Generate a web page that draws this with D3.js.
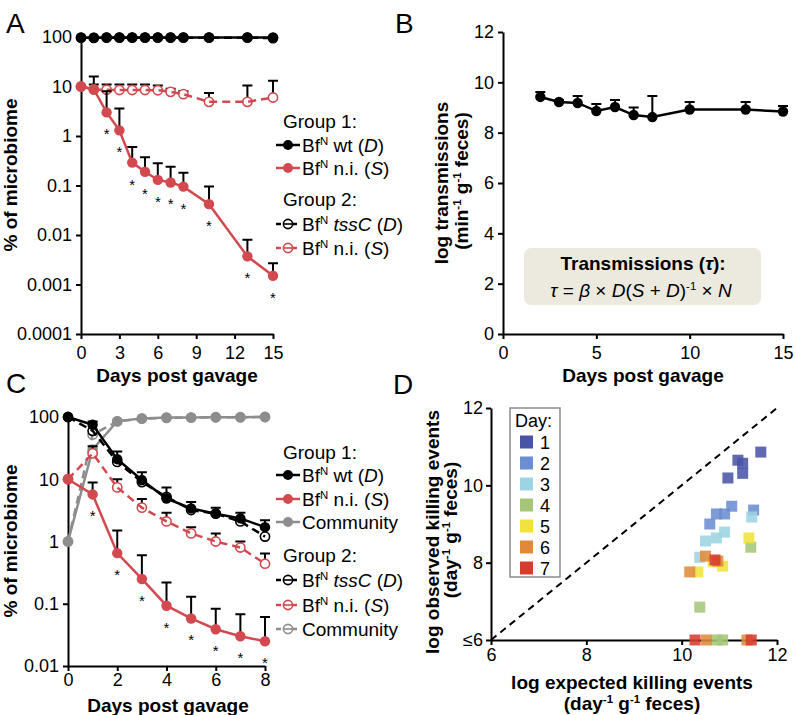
<!DOCTYPE html>
<html>
<head>
<meta charset="utf-8">
<script src="https://cdn.jsdelivr.net/npm/d3@7.9.0/dist/d3.min.js"></script>
<style>
body { margin: 0; background: #fff; }
svg { display: block; font-family: "Liberation Sans", Arial, Helvetica, sans-serif; }
text { white-space: pre; }
</style>
</head>
<body>
<svg id="fig" width="796" height="715"></svg>
<script>
// ---------- data ----------

// A: % of microbiome, 15 days
const daysA = [0, 1, 2, 3, 4, 5, 6, 7, 8, 10, 13, 15];
const aWtD = [97, 97, 98, 98, 98, 98, 98, 98, 98, 98, 98, 98];
const aTssD = [97, 96, 97, 97, 97, 97, 97, 97, 97, 97, 97, 95];
const aNiS1 = [10, 8.8, 3.0, 1.3, 0.29, 0.19, 0.13, 0.115, 0.095, 0.042, 0.0037, 0.0015];
const aNiS1Err = [null, 16, 8, 3.6, 0.6, 0.37, 0.28, 0.24, 0.18, 0.095, 0.008, 0.0027];
const aNiS2 = [10, 8.7, 8.6, 8.5, 8.5, 8.5, 8.4, 7.8, 7.0, 4.9, 4.9, 6.0];
const aNiS2Err = [null, 11, 11, 11, 11, 11, 10.5, 9, 8, 7.4, 10.5, 13];
const starDaysA = [2, 3, 4, 5, 6, 7, 8, 10, 13, 15];
const ticksAy = [100, 10, 1, 0.1, 0.01, 0.001, 0.0001];
const ticksAx = [0, 3, 6, 9, 12, 15];

// B: log transmissions
const daysB = [2, 3, 4, 5, 6, 7, 8, 10, 13, 15];
const bTrans = [9.42, 9.22, 9.18, 8.86, 9.02, 8.7, 8.62, 8.92, 8.92, 8.84];
const bTransErr = [9.62, 9.3, 9.46, 9.14, 9.3, 9.0, 9.46, 9.22, 9.22, 9.06];
const ticksBy = [0, 2, 4, 6, 8, 10, 12];
const ticksBx = [0, 5, 10, 15];

// C: % of microbiome with community, 8 days
const daysC = [0, 1, 2, 3, 4, 5, 6, 7, 8];
const cWtD = [100, 75, 21, 9.7, 4.9, 3.4, 2.8, 2.35, 1.7];
const cWtDErr = [null, 85, 28, 13, 7.4, 4.3, 3.5, 2.9, 2.2];
const cNiS1 = [10, 5.7, 0.65, 0.25, 0.093, 0.058, 0.039, 0.03, 0.025];
const cNiS1Err = [null, 8.9, 1.5, 0.6, 0.22, 0.13, 0.083, 0.068, 0.061];
const cComm1 = [1, 30, 86, 95, 98, 98, 99, 99, 100];
const cTssD = [100, 60, 19, 9, 5.2, 3.2, 2.8, 2.1, 1.2];
const cNiS2 = [10, 26, 7.4, 3.5, 2.1, 1.35, 1.0, 0.8, 0.44];
const cNiS2Err = [null, 34, 10, 4.8, 2.9, 1.7, 1.35, 1.0, 0.64];
const cComm2 = [1, 52, 85, 94, 97, 98, 99, 99, 100];
const starDaysC = [1, 2, 3, 4, 5, 6, 7, 8];
const ticksCy = [100, 10, 1, 0.1, 0.01];
const ticksCx = [0, 2, 4, 6, 8];

// D: observed vs expected killing events
const dDay = [1, 1, 1, 1, 1, 2, 2, 2, 2, 2, 3, 3, 3, 3, 3, 4, 4, 4, 4, 5, 5, 5, 5, 6, 6, 6, 6, 6, 7, 7, 7];
const dExpected = [11.66, 11.18, 11.28, 11.28, 10.97, 11.05, 11.51, 10.9, 10.73, 10.59,
  11.47, 10.9, 10.73, 10.5, 10.38, 11.45, 10.38, 10.74, 10.86, 11.41, 10.86, 10.66, 10.34,
  10.5, 10.17, 10.76, 10.52, 11.37, 10.7, 10.28, 11.46];
const dObserved = [10.86, 10.65, 10.57, 10.31, 10.19, 9.46, 9.36, 9.26, 9.26, 9.0,
  9.18, 8.79, 8.64, 8.56, 8.14, 8.4, 6.85, 6, 6, 8.64, 7.91, 8.02, 7.76,
  8.17, 7.76, 8.04, 6, 6, 8.07, 6, 6];
const dayLabels = [1, 2, 3, 4, 5, 6, 7];
const dayColors = ['#4a54a6', '#6b8dd2', '#9dd3e3', '#a5c67a', '#f1e23c', '#df8a3b', '#d63c2d'];
const ticksD = [6, 8, 10, 12];

// ---------- helpers ----------
const svg = d3.select('#fig');
const RED = '#d2494f', GRAY = '#8d8d8d';
const FONT = 18, TFONT = 19;

// text with italic / superscript pieces
function rich(sel, parts, size) {
  let up = false;
  parts.forEach(p => {
    const ts = sel.append('tspan').text(p.t);
    if (p.it) ts.attr('font-style', 'italic');
    if (p.sup) { ts.attr('font-size', size * 0.6).attr('dy', -size * 0.36); up = true; }
    else if (up) { ts.attr('dy', size * 0.36); up = false; }
  });
  return sel;
}

function styleAxis(g) {
  g.attr('font-family', null).attr('font-size', FONT);
  g.select('.domain').attr('stroke-width', 2);
  g.selectAll('.tick line').attr('stroke-width', 2);
  g.selectAll('.tick text').attr('fill', '#000');
}

function series(g, x, y, days, vals, o) {
  const pts = days.map((d, i) => ({ d, v: vals[i], e: o.err ? o.err[i] : null }));
  pts.filter(p => p.e != null).forEach(p => {
    g.append('path')
      .attr('d', `M${x(p.d)},${y(p.v)}V${y(p.e)}M${x(p.d) - 5},${y(p.e)}H${x(p.d) + 5}`)
      .attr('stroke', '#000').attr('stroke-width', 2).attr('fill', 'none');
  });
  const line = d3.line().x(p => x(p.d)).y(p => y(p.v));
  const drawLine = () => g.append('path').datum(pts).attr('d', line)
    .attr('fill', 'none').attr('stroke', o.color).attr('stroke-width', 2.5)
    .attr('stroke-dasharray', o.dash ? '8,5' : null);
  const drawDots = () => g.selectAll(null).data(pts).enter().append('circle')
    .attr('cx', p => x(p.d)).attr('cy', p => y(p.v)).attr('r', o.open ? 4.6 : 5.2)
    .attr('fill', o.open ? '#fff' : o.color)
    .attr('stroke', o.color).attr('stroke-width', o.open ? 1.6 : 0);
  if (o.open) { drawDots(); drawLine(); } else { drawLine(); drawDots(); }
}

function stars(g, x, y, days, allDays, vals) {
  days.forEach(d => {
    const v = vals[allDays.indexOf(d)];
    g.append('text').attr('x', x(d)).attr('y', y(v) + 27)
      .attr('text-anchor', 'middle').attr('font-size', 15).text('*');
  });
}

function legendRow(g, x0, yc, o, parts) {
  g.append('line').attr('x1', x0).attr('x2', x0 + 24).attr('y1', yc).attr('y2', yc)
    .attr('stroke', o.color).attr('stroke-width', 2.5)
    .attr('stroke-dasharray', o.dash ? '5,3' : null);
  g.append('circle').attr('cx', x0 + 12).attr('cy', yc).attr('r', o.open ? 4.6 : 5)
    .attr('fill', o.open ? '#fff' : o.color).attr('stroke', o.color)
    .attr('stroke-width', o.open ? 1.6 : 0);
  if (o.open) {
    g.append('line').attr('x1', x0 + 7).attr('x2', x0 + 17).attr('y1', yc).attr('y2', yc)
      .attr('stroke', o.color).attr('stroke-width', 1.6);
  }
  rich(g.append('text').attr('x', x0 + 26).attr('y', yc + 6.5).attr('font-size', TFONT), parts, TFONT);
}

function legendHead(g, x0, yc, label) {
  g.append('text').attr('x', x0).attr('y', yc + 6.5).attr('font-size', TFONT).text(label);
}

function title(x, y, parts, rotate) {
  const t = svg.append('text').attr('font-size', TFONT).attr('font-weight', 'bold')
    .attr('text-anchor', 'middle')
    .attr('transform', `translate(${x},${y})` + (rotate ? ' rotate(-90)' : ''));
  rich(t, parts, TFONT);
}

function letter(x, y, s) {
  svg.append('text').attr('x', x).attr('y', y).attr('font-size', 28).text(s);
}

const bf = [{ t: 'Bf' }, { t: 'N', sup: true }];
const perUnit = (u) => [{ t: '(' + u }, { t: '-1', sup: true }, { t: ' g' }, { t: '-1', sup: true }, { t: ' feces)' }];

// ---------- panel A ----------
{
  const x = d3.scaleLinear().domain([0, 15]).range([81, 273]);
  const y = d3.scaleLog().domain([0.0001, 100]).range([334, 37]);
  const g = svg.append('g');
  g.append('g').attr('transform', 'translate(81,0)')
    .call(d3.axisLeft(y).tickValues(ticksAy).tickFormat(d => String(d)).tickSize(5).tickSizeOuter(0).tickPadding(4))
    .call(styleAxis);
  g.append('g').attr('transform', 'translate(0,334)')
    .call(d3.axisBottom(x).tickValues(ticksAx).tickSize(5).tickSizeOuter(0).tickPadding(7))
    .call(styleAxis);

  series(g, x, y, daysA, aTssD, { color: '#000', dash: true, open: true });
  series(g, x, y, daysA, aWtD, { color: '#000' });
  series(g, x, y, daysA, aNiS2, { color: RED, dash: true, open: true, err: aNiS2Err });
  series(g, x, y, daysA, aNiS1, { color: RED, err: aNiS1Err });
  stars(g, x, y, starDaysA, daysA, aNiS1);

  const lg = svg.append('g');
  legendHead(lg, 283, 121, 'Group 1:');
  legendRow(lg, 276, 145, { color: '#000' }, [...bf, { t: ' wt (' }, { t: 'D', it: true }, { t: ')' }]);
  legendRow(lg, 276, 168, { color: RED }, [...bf, { t: ' n.i. (' }, { t: 'S', it: true }, { t: ')' }]);
  legendHead(lg, 283, 199, 'Group 2:');
  legendRow(lg, 276, 224, { color: '#000', dash: true, open: true }, [...bf, { t: ' ' }, { t: 'tssC', it: true }, { t: ' (' }, { t: 'D', it: true }, { t: ')' }]);
  legendRow(lg, 276, 248, { color: RED, dash: true, open: true }, [...bf, { t: ' n.i. (' }, { t: 'S', it: true }, { t: ')' }]);

  title(17, 175, [{ t: '% of microbiome' }], true);
  title(177, 382, [{ t: 'Days post gavage' }]);
  letter(6, 33, 'A');
}

// ---------- panel B ----------
{
  const x = d3.scaleLinear().domain([0, 15]).range([503, 783]);
  const y = d3.scaleLinear().domain([0, 12]).range([334, 32]);
  const g = svg.append('g');
  g.append('g').attr('transform', 'translate(503,0)')
    .call(d3.axisLeft(y).tickValues(ticksBy).tickSize(5).tickSizeOuter(0).tickPadding(4))
    .call(styleAxis);
  g.append('g').attr('transform', 'translate(0,334)')
    .call(d3.axisBottom(x).tickValues(ticksBx).tickSize(5).tickSizeOuter(0).tickPadding(7))
    .call(styleAxis);
  series(g, x, y, daysB, bTrans, { color: '#000', err: bTransErr });

  g.append('rect').attr('x', 524).attr('y', 248).attr('width', 237).attr('height', 57)
    .attr('rx', 7).attr('fill', '#ece9df');
  rich(g.append('text').attr('x', 643).attr('y', 270).attr('text-anchor', 'middle')
    .attr('font-size', TFONT).attr('font-weight', 'bold'),
    [{ t: 'Transmissions (' }, { t: 'τ', it: true }, { t: '):' }], TFONT);
  rich(g.append('text').attr('x', 641).attr('y', 297).attr('text-anchor', 'middle').attr('font-size', TFONT),
    [{ t: 'τ', it: true }, { t: ' = ' }, { t: 'β', it: true }, { t: ' × ' }, { t: 'D', it: true }, { t: '(' },
     { t: 'S', it: true }, { t: ' + ' }, { t: 'D', it: true }, { t: ')' }, { t: '-1', sup: true },
     { t: ' × ' }, { t: 'N', it: true }], TFONT);

  title(448, 183, [{ t: 'log transmissions' }], true);
  title(468, 181, perUnit('min'), true);
  title(643, 382, [{ t: 'Days post gavage' }]);
  letter(395, 33, 'B');
}

// ---------- panel C ----------
{
  const x = d3.scaleLinear().domain([0, 8]).range([68, 265]);
  const y = d3.scaleLog().domain([0.01, 100]).range([666, 417]);
  const g = svg.append('g');
  g.append('g').attr('transform', 'translate(68,0)')
    .call(d3.axisLeft(y).tickValues(ticksCy).tickFormat(d => String(d)).tickSize(5).tickSizeOuter(0).tickPadding(4))
    .call(styleAxis);
  g.append('g').attr('transform', 'translate(0,666)')
    .call(d3.axisBottom(x).tickValues(ticksCx).tickSize(5).tickSizeOuter(0).tickPadding(2))
    .call(styleAxis);

  series(g, x, y, daysC, cComm2, { color: GRAY, dash: true, open: true });
  series(g, x, y, daysC, cComm1, { color: GRAY });
  series(g, x, y, daysC, cNiS2, { color: RED, dash: true, open: true, err: cNiS2Err });
  series(g, x, y, daysC, cTssD, { color: '#000', dash: true, open: true });
  series(g, x, y, daysC, cWtD, { color: '#000', err: cWtDErr });
  series(g, x, y, daysC, cNiS1, { color: RED, err: cNiS1Err });
  stars(g, x, y, starDaysC, daysC, cNiS1);

  const lg = svg.append('g');
  legendHead(lg, 283, 452, 'Group 1:');
  legendRow(lg, 276, 475, { color: '#000' }, [...bf, { t: ' wt (' }, { t: 'D', it: true }, { t: ')' }]);
  legendRow(lg, 276, 499, { color: RED }, [...bf, { t: ' n.i. (' }, { t: 'S', it: true }, { t: ')' }]);
  legendRow(lg, 276, 522, { color: GRAY }, [{ t: 'Community' }]);
  legendHead(lg, 283, 555, 'Group 2:');
  legendRow(lg, 276, 580, { color: '#000', dash: true, open: true }, [...bf, { t: ' ' }, { t: 'tssC', it: true }, { t: ' (' }, { t: 'D', it: true }, { t: ')' }]);
  legendRow(lg, 276, 605, { color: RED, dash: true, open: true }, [...bf, { t: ' n.i. (' }, { t: 'S', it: true }, { t: ')' }]);
  legendRow(lg, 276, 629, { color: GRAY, dash: true, open: true }, [{ t: 'Community' }]);

  title(17, 541, [{ t: '% of microbiome' }], true);
  title(168, 712, [{ t: 'Days post gavage' }]);
  letter(6, 393, 'C');
}

// ---------- panel D ----------
{
  const x = d3.scaleLinear().domain([6, 12]).range([491, 777]);
  const y = d3.scaleLinear().domain([6, 12]).range([640, 408]);
  const color = d3.scaleOrdinal().domain(dayLabels).range(dayColors);
  const g = svg.append('g');
  g.append('g').attr('transform', 'translate(491,0)')
    .call(d3.axisLeft(y).tickValues(ticksD).tickFormat(d => d === 6 ? '≤6' : String(d)).tickSize(5).tickSizeOuter(0).tickPadding(3))
    .call(styleAxis);
  g.append('g').attr('transform', 'translate(0,640)')
    .call(d3.axisBottom(x).tickValues(ticksD).tickFormat(d => String(d)).tickSize(5).tickSizeOuter(0).tickPadding(3))
    .call(styleAxis);

  g.append('path').datum(d3.extent(ticksD))
    .attr('d', d3.line().x(v => x(v)).y(v => y(v)))
    .attr('stroke', '#000').attr('stroke-width', 2).attr('stroke-dasharray', '7,5').attr('fill', 'none');

  const pts = dDay.map((d, i) => ({ day: d, ex: dExpected[i], ob: dObserved[i] }));
  g.selectAll(null).data(pts).enter().append('rect')
    .attr('x', p => x(p.ex) - 5.5).attr('y', p => y(p.ob) - 5.5)
    .attr('width', 11).attr('height', 11)
    .attr('fill', p => color(p.day)).attr('fill-opacity', 0.88);

  const lg = svg.append('g');
  lg.append('rect').attr('x', 510).attr('y', 408).attr('width', 50).attr('height', 169)
    .attr('fill', '#fff').attr('stroke', '#8a8a8a').attr('stroke-width', 1.5);
  lg.append('text').attr('x', 515).attr('y', 427).attr('font-size', FONT).text('Day:');
  dayLabels.forEach((d, i) => {
    const yc = 442 + i * 21;
    lg.append('rect').attr('x', 520).attr('y', yc - 6.5).attr('width', 13).attr('height', 13)
      .attr('fill', color(d));
    lg.append('text').attr('x', 540).attr('y', yc + 6.5).attr('font-size', FONT).text(d);
  });

  title(439, 532, [{ t: 'log observed killing events' }], true);
  title(457, 530, perUnit('day'), true);
  title(632, 689, [{ t: 'log expected killing events' }]);
  title(632, 710, perUnit('day'));
  letter(393, 394, 'D');
}
</script>
</body>
</html>
